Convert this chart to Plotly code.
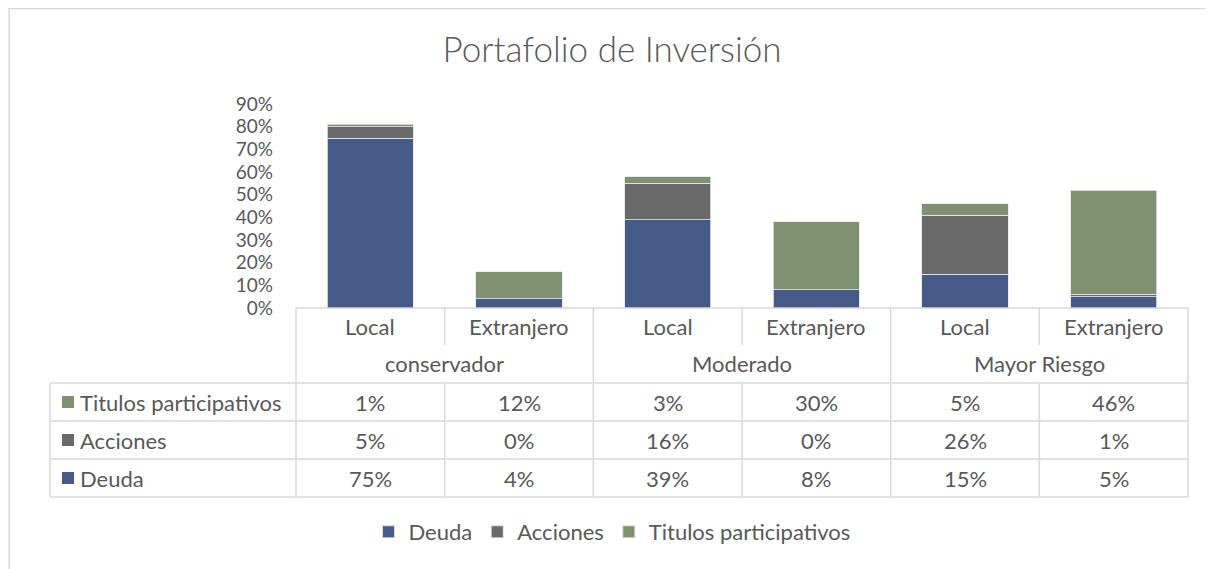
import plotly.graph_objects as go

# ---- data ----
sub_categories = ["Local", "Extranjero", "Local", "Extranjero", "Local", "Extranjero"]
groups = ["conservador", "Moderado", "Mayor Riesgo"]
series_names = ["Deuda", "Acciones", "Titulos participativos"]
deuda = [75, 4, 39, 8, 15, 5]
acciones = [5, 0, 16, 0, 26, 1]
titulos = [1, 12, 3, 30, 5, 46]
colors = ["#465A8A", "#696969", "#7F9171"]
y_ticks = [0, 10, 20, 30, 40, 50, 60, 70, 80, 90]

W, H = 1213, 569
OFF = 8                      # default page body margin
FW, FH = W - OFF, H - OFF    # figure size
FONT = "Lato, Carlito, Calibri, sans-serif"
TXT = "#595959"
GRID = "#d9d9d9"
FS = 22

# layout in reference-screen pixels (converted to paper fractions)
plot_left_px, plot_right_px = 296, 1188
plot_bottom_px, plot_top_px = 308, 104
table_left_px = 50
header_bottom_px = 345
group_bottom_px = 383
row_h_px = 38
n_rows = 3

def px_x(p): return (p - OFF) / FW
def px_y(p): return (H - p) / FH

n = len(sub_categories)
xs = list(range(n))
dom = [px_x(plot_left_px), px_x(plot_right_px)]

def data_to_paper_x(x):
    return dom[0] + (x + 0.5) / n * (dom[1] - dom[0])

fig = go.Figure()
series_vals = [deuda, acciones, titulos]
for name, vals, c in zip(series_names, series_vals, colors):
    fig.add_trace(go.Bar(
        x=xs, y=[v / 100 for v in vals], name=name,
        marker=dict(color=c, line=dict(color="#e6e6e6", width=0.8)),
    ))

shapes = []
def line(x0, y0, x1, y1):
    shapes.append(dict(type="line", xref="paper", yref="paper",
                       x0=x0, y0=y0, x1=x1, y1=y1,
                       line=dict(color=GRID, width=1.5)))

table_bottom_px = group_bottom_px + n_rows * row_h_px
# axis line / table top
line(data_to_paper_x(-0.5), px_y(plot_bottom_px), data_to_paper_x(n - 0.5), px_y(plot_bottom_px))
# vertical lines
for i in range(n + 1):
    xb = data_to_paper_x(i - 0.5)
    if i % 2 == 0:
        line(xb, px_y(plot_bottom_px), xb, px_y(table_bottom_px))
    else:
        line(xb, px_y(plot_bottom_px), xb, px_y(header_bottom_px))
        line(xb, px_y(group_bottom_px), xb, px_y(table_bottom_px))
# horizontal lines of data rows
for r in range(n_rows + 1):
    yb = group_bottom_px + r * row_h_px
    line(px_x(table_left_px), px_y(yb), data_to_paper_x(n - 0.5), px_y(yb))
line(px_x(table_left_px), px_y(group_bottom_px), px_x(table_left_px), px_y(table_bottom_px))
# outer chart border (left and top edges visible)
line(0.001, 0, 0.001, 1)
line(0, 0.999, 1, 0.999)

annotations = []
def ann(x, y, text, xanchor="center"):
    annotations.append(dict(xref="paper", yref="paper", x=x, y=y, text=text,
                            showarrow=False, xanchor=xanchor, yanchor="middle",
                            font=dict(family=FONT, size=FS, color=TXT)))

# sub-category row
for i, lab in enumerate(sub_categories):
    ann(data_to_paper_x(i), px_y((plot_bottom_px + header_bottom_px) / 2), lab)
# group row
for g, lab in enumerate(groups):
    ann(data_to_paper_x(2 * g + 0.5), px_y((header_bottom_px + group_bottom_px) / 2), lab)
# data rows (top: Titulos, then Acciones, then Deuda)
row_order = [2, 1, 0]
for r, si in enumerate(row_order):
    yc_px = group_bottom_px + r * row_h_px + row_h_px / 2
    yc = px_y(yc_px)
    shapes.append(dict(type="rect", xref="paper", yref="paper",
                       x0=px_x(table_left_px + 12), x1=px_x(table_left_px + 24),
                       y0=px_y(yc_px + 6), y1=px_y(yc_px - 6),
                       fillcolor=colors[si], line=dict(width=0)))
    ann(px_x(table_left_px + 28), yc, series_names[si], xanchor="left")
    for i, v in enumerate(series_vals[si]):
        ann(data_to_paper_x(i), yc, f"{v}%")

fig.update_layout(
    width=FW, height=FH,
    margin=dict(l=0, r=0, t=0, b=0, autoexpand=False),
    paper_bgcolor="white", plot_bgcolor="white",
    barmode="stack", bargap=0.42,
    title=dict(text="Portafolio de Inversión", x=px_x(612), xanchor="center",
               y=px_y(50), yanchor="middle",
               font=dict(family=FONT, size=35, color=TXT, weight=300)),
    xaxis=dict(domain=dom, range=[-0.5, n - 0.5], showticklabels=False, automargin=False,
               showgrid=False, zeroline=False, showline=False, fixedrange=True),
    yaxis=dict(domain=[px_y(plot_bottom_px), px_y(plot_top_px)], range=[0, 0.9],
               tickvals=[t / 100 for t in y_ticks], ticktext=[f"{t}%" for t in y_ticks],
               showgrid=False, zeroline=False, showline=False, automargin=False,
               ticklabelstandoff=22,
               tickfont=dict(family=FONT, size=19, color=TXT)),
    legend=dict(orientation="h", x=px_x(612), xanchor="center", y=px_y(532), yanchor="middle",
                font=dict(family=FONT, size=FS, color=TXT), traceorder="normal"),
    shapes=shapes, annotations=annotations,
    font=dict(family=FONT, color=TXT),
)

fig.write_html("out.html")
